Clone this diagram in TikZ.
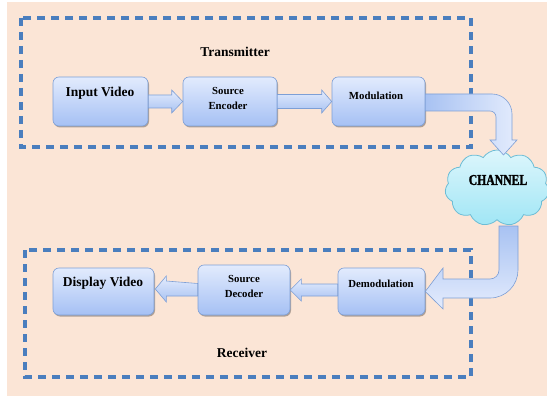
\documentclass[tikz,border=0pt]{standalone}
\usepackage{fontspec}
\setmainfont{Liberation Serif}
\newfontfamily\chfont{Liberation Serif}[FakeStretch=0.78,FakeBold=1.6]
\usetikzlibrary{shapes.symbols,shadows,calc}
\definecolor{bgpeach}{HTML}{FBE5D6}
\definecolor{dashblue}{HTML}{4A7EBE}
\definecolor{boxtop}{HTML}{E2EBFD}
\definecolor{boxbot}{HTML}{A5C0F4}
\definecolor{boxline}{HTML}{7D9FD6}
\definecolor{cloudtop}{HTML}{DDF6FC}
\definecolor{cloudbot}{HTML}{A0E6F5}
\definecolor{cloudline}{HTML}{6CBDD6}
\definecolor{arrdark}{HTML}{A8C2F2}
\definecolor{arrlight}{HTML}{E4ECFD}
\tikzset{
  blockbox/.style={draw=boxline, line width=0.6pt, rounded corners=6pt,
    top color=boxtop, bottom color=boxbot,
    drop shadow={shadow xshift=1pt, shadow yshift=-1.5pt, opacity=0.3, fill=black},
    inner sep=0pt},
  grouprect/.style={draw=dashblue, line width=3.2pt, dash pattern=on 8pt off 6pt},
  bigtxt/.style={font=\bfseries\fontsize{13.5}{16}\selectfont, inner sep=0pt},
  smalltxt/.style={font=\bfseries\fontsize{10.8}{15}\selectfont, align=center, inner sep=0pt},
  barrow/.style={draw=boxline, line width=0.6pt, top color=arrlight, bottom color=arrdark},
}
\begin{document}
\begin{tikzpicture}[x=1pt,y=-1pt]
\useasboundingbox (0,0) rectangle (547,396);
\fill[bgpeach] (7,2) rectangle (547,396);

% group frames
\draw[grouprect] (21,18) rectangle (471,147);
\draw[grouprect] (25,250) rectangle (471,377);
\node[bigtxt] (ttx) at (235,52) {Transmitter};
\node[bigtxt] (trx) at (242,353) {Receiver};

% boxes
\node[blockbox, minimum width=95pt, minimum height=49pt] (inp) at (100.5,101.5) {};
\node[blockbox, minimum width=94pt, minimum height=49pt] (enc) at (230,101.5) {};
\node[blockbox, minimum width=93pt, minimum height=49pt] (mod) at (378.5,101.5) {};
\node[blockbox, minimum width=101pt, minimum height=47pt] (dsp) at (103.5,291.5) {};
\node[blockbox, minimum width=92pt, minimum height=50pt] (dec) at (244,290) {};
\node[blockbox, minimum width=87pt, minimum height=47pt] (dem) at (381.5,291.5) {};

\node[bigtxt] (tinp) at (100,93) {Input Video};
\node[smalltxt] (tenc) at (228,98.5) {Source\\Encoder};
\node[smalltxt] (tmod) at (376,96) {Modulation};
\node[bigtxt] (tdsp) at (103,283) {Display Video};
\node[smalltxt] (tdec) at (244,286.5) {Source\\Decoder};
\node[smalltxt] (tdem) at (381,284) {Demodulation};

% cloud
\node[cloud, cloud puffs=11, cloud puff arc=115, aspect=1.4,
      draw=cloudline, line width=0.8pt, top color=cloudtop, bottom color=cloudbot,
      minimum width=104pt, minimum height=76pt, inner sep=0pt] (ch) at (497,188) {};
\node[font=\chfont\bfseries\fontsize{15}{15}\selectfont, inner sep=0pt] (tch) at (498,180) {CHANNEL};

% straight block arrows (transmitter)
\path[barrow] ($(inp.east)+(0,-6.5)$) -- ($(enc.west)+(-11,-6.5)$) -- ($(enc.west)+(-11,-11.5)$)
  -- (enc.west) -- ($(enc.west)+(-11,11.5)$) -- ($(enc.west)+(-11,6.5)$) -- ($(inp.east)+(0,6.5)$) -- cycle;
\path[barrow] ($(enc.east)+(0,-7)$) -- ($(mod.west)+(-10,-7)$) -- ($(mod.west)+(-10,-11.5)$)
  -- (mod.west) -- ($(mod.west)+(-10,11.5)$) -- ($(mod.west)+(-10,7)$) -- ($(enc.east)+(0,7)$) -- cycle;

% straight block arrows (receiver)
\path[barrow] ($(dem.west)+(0,-7.5)$) -- ($(dec.east)+(11,-6)$) -- ($(dec.east)+(11,-11)$)
  -- (dec.east) -- ($(dec.east)+(11,11)$) -- ($(dec.east)+(11,6)$) -- ($(dem.west)+(0,4.5)$) -- cycle;
\path[barrow] ($(dec.west)+(0,-6.5)$) -- ($(dsp.east)+(12,-10.5)$) -- ($(dsp.east)+(12,-15.5)$)
  -- ($(dsp.east)+(1,-2.5)$) -- ($(dsp.east)+(12,10.5)$) -- ($(dsp.east)+(12,4.5)$) -- ($(dec.west)+(0,6)$) -- cycle;

% curved arrow to channel
\coordinate (ctop) at (503.5,155);
\path[draw=boxline, line width=0.6pt, left color=arrdark, right color=arrlight]
  ($(mod.east)+(0,-7.5)$) -- (492,94) .. controls (503,94) and (512,103) .. (512,114)
  -- ($(ctop)+(8.5,-15)$) -- ($(ctop)+(13.5,-15)$) -- (ctop) -- ($(ctop)+(-13.5,-15)$)
  -- ($(ctop)+(-7.5,-15)$) -- (496,117) .. controls (496,113.7) and (493.3,111) .. (490,111)
  -- ($(mod.east)+(0,9.5)$) -- cycle;

% curved arrow from channel
\coordinate (cbot) at (508.5,226);
\path[draw=boxline, line width=0.6pt, top color=arrdark, bottom color=arrlight]
  ($(cbot)+(9.5,0)$) -- (518,270) .. controls (518,285) and (506,298) .. (490,298)
  -- (443,298) -- (443,309) -- (dem.east) -- (443,268) -- (443,279) -- (490,279)
  .. controls (495,279) and (499,275) .. (499,270) -- ($(cbot)+(-9.5,0)$) -- cycle;
\end{tikzpicture}
\end{document}
